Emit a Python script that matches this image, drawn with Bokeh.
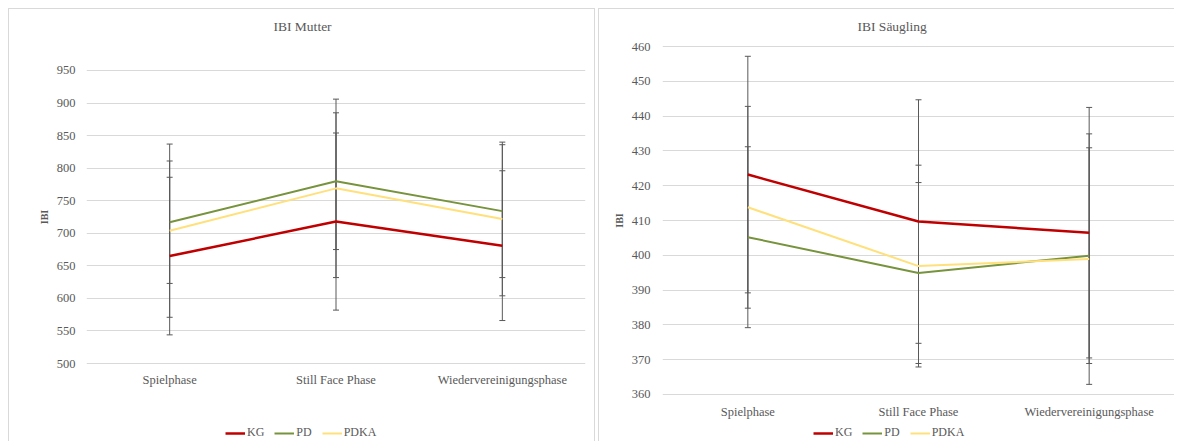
from bokeh.plotting import figure
from bokeh.models import (ColumnDataSource, Whisker, TeeHead, Range1d, FactorRange,
                          Legend, LegendItem, SingleIntervalTicker, Label)
from bokeh.embed import file_html
from bokeh.resources import INLINE

phases = ["Spielphase", "Still Face Phase", "Wiedervereinigungsphase"]
groups = ["KG", "PD", "PDKA"]

# IBI Mutter
mutter_kg = [665, 718, 681]
mutter_pd = [717, 780, 734]
mutter_pdka = [704, 769, 722]
mutter_kg_err = [121, 136, 115]
mutter_pd_err = [94, 105, 102]
mutter_pdka_err = [133, 137, 118]

# IBI Säugling
saeug_kg = [423.2, 409.7, 406.5]
saeug_pd = [405.2, 394.9, 399.9]
saeug_pdka = [413.8, 396.9, 398.9]
saeug_kg_err = [34, 35, 36]
saeug_pd_err = [26, 26, 31]
saeug_pdka_err = [29, 29, 36]

colors = {"KG": "#C00000", "PD": "#77933C", "PDKA": "#FFE07A"}
widths = {"KG": 2.5, "PD": 2, "PDKA": 2}
TXT = "#595959"
FONT = "Liberation Serif"
GRID = "#D9D9D9"
BORDER = "1px solid #D9D9D9"


def make_panel(series, errors, y0, y1, step, width, height, mb, xlabel_standoff,
               ylabel_standoff, styles):
    p = figure(x_range=FactorRange(*phases), y_range=Range1d(y0, y1),
               width=width, height=height, output_backend="svg", toolbar_location=None,
               min_border_left=mb[0], min_border_right=mb[1],
               min_border_top=mb[2], min_border_bottom=mb[3],
               outline_line_color=None, styles=styles)

    p.yaxis.ticker = SingleIntervalTicker(interval=step)
    p.ygrid.grid_line_color = GRID
    p.xgrid.grid_line_color = None
    for ax in (p.xaxis[0], p.yaxis[0]):
        ax.axis_line_color = None
        ax.major_tick_line_color = None
        ax.minor_tick_line_color = None
        ax.major_tick_out = 0
        ax.minor_tick_out = 0
        ax.major_tick_in = 0
        ax.minor_tick_in = 0
        ax.major_label_text_font = FONT
        ax.major_label_text_font_size = "12.5px"
        ax.major_label_text_color = TXT
    p.yaxis.major_label_standoff = ylabel_standoff
    p.xaxis.major_label_standoff = xlabel_standoff
    p.yaxis.axis_label = "IBI"
    p.yaxis.axis_label_text_font = FONT
    p.yaxis.axis_label_text_font_size = "10px"
    p.yaxis.axis_label_text_font_style = "bold"
    p.yaxis.axis_label_text_color = TXT
    p.yaxis.axis_label_standoff = 4

    for g in groups:
        vals = series[g]
        errs = errors[g]
        src = ColumnDataSource(dict(base=phases,
                                    upper=[v + e for v, e in zip(vals, errs)],
                                    lower=[v - e for v, e in zip(vals, errs)]))
        w = Whisker(base="base", upper="upper", lower="lower", source=src,
                    line_color="#595959", line_width=1,
                    upper_head=TeeHead(size=6, line_color="#595959", line_width=1),
                    lower_head=TeeHead(size=6, line_color="#595959", line_width=1))
        p.add_layout(w)

    for g in groups:
        p.line(x=phases, y=series[g], line_color=colors[g], line_width=widths[g])
    return p


def make_overlay(title, series, width, height, left, top, title_x, title_y, legend_x):
    # transparent layer holding the panel title and the legend (outside the data frame)
    ov = figure(width=width, height=height, x_range=Range1d(0, width),
                y_range=Range1d(height, 0), x_axis_type=None, y_axis_type=None,
                min_border=0, output_backend="svg", toolbar_location=None,
                outline_line_color=None, background_fill_color=None,
                border_fill_color=None,
                styles={"position": "absolute", "left": f"{left}px", "top": f"{top}px"})
    ov.add_layout(Label(x=title_x, y=title_y, text=title, text_font=FONT,
                        text_font_size="13.5px", text_color=TXT, text_align="left",
                        text_baseline="middle"))
    items = []
    for g in groups:
        r = ov.line(x=[0, 1, 2], y=series[g], line_color=colors[g],
                    line_width=widths[g], visible=False)
        items.append(LegendItem(label=g, renderers=[r]))
    legend = Legend(items=items, orientation="horizontal", location=(legend_x, 2),
                    glyph_width=20, glyph_height=10, label_standoff=2, spacing=10,
                    padding=0, margin=0, border_line_color=None,
                    background_fill_alpha=0, label_text_font=FONT,
                    label_text_font_size="12px", label_text_color=TXT,
                    label_height=10, label_width=0)
    ov.add_layout(legend, "center")
    return ov


s1 = {"KG": mutter_kg, "PD": mutter_pd, "PDKA": mutter_pdka}
s2 = {"KG": saeug_kg, "PD": saeug_pd, "PDKA": saeug_pdka}

p1 = make_panel(s1,
                {"KG": mutter_kg_err, "PD": mutter_pd_err, "PDKA": mutter_pdka_err},
                498.5, 951.5, 50, 587, 433, (77, 11, 60, 78), 8, 11,
                {"position": "absolute", "left": "8px", "top": "8px",
                 "border-top": BORDER, "border-left": BORDER, "border-right": BORDER})

p2 = make_panel(s2,
                {"KG": saeug_kg_err, "PD": saeug_pd_err, "PDKA": saeug_pdka_err},
                359.7, 460.3, 10, 576, 433, (63, 1, 36, 47), 9, 12,
                {"position": "absolute", "left": "598px", "top": "8px",
                 "border-top": BORDER, "border-left": BORDER})

o1 = make_overlay("IBI Mutter", s1, 587, 433, 9, 9, 264, 17, 216)
o2 = make_overlay("IBI Säugling", s2, 576, 433, 599, 9, 258, 17, 214)

open("out.html", "w").write(file_html([p1, p2, o1, o2], INLINE))
